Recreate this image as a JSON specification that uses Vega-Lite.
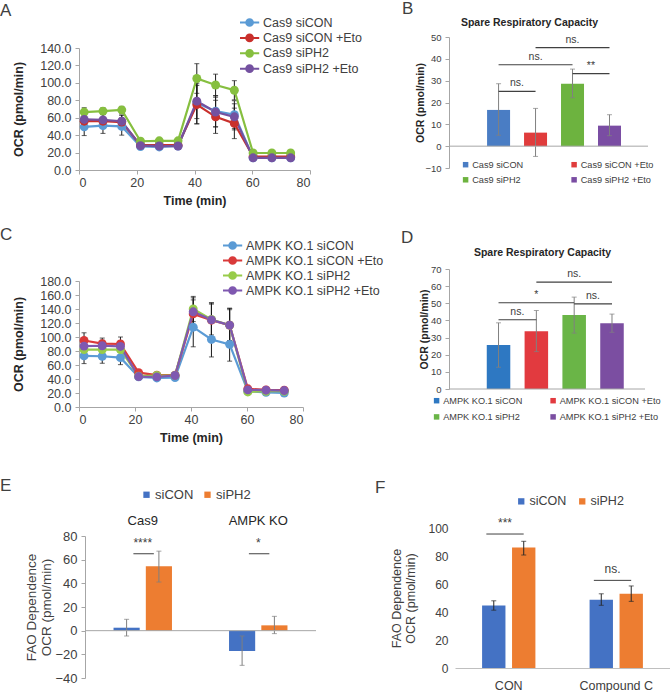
{
"$schema": "https://vega.github.io/schema/vega-lite/v6.json",
"padding": 0,
"autosize": {"type": "pad"},
"config": {
  "view": {"stroke": null},
  "font": "Liberation Sans",
  "axis": {"grid": false, "labelOverlap": false, "labelFont": "Liberation Sans", "titleFont": "Liberation Sans", "domainColor": "#a6a6a6", "tickColor": "#a6a6a6", "labelColor": "#404040", "titleColor": "#262626"},
  "legend": {"labelFont": "Liberation Sans", "labelColor": "#404040"},
  "title": {"font": "Liberation Sans", "fontWeight": "normal", "color": "#404040", "anchor": "start", "frame": "group", "fontSize": 17, "offset": 0}
},
"datasets": {
  "lineA": [
    {"g":"Cas9 siCON","t":1.8,"y":49.5,"lo":39.5,"hi":59.5},{"g":"Cas9 siCON","t":8.3,"y":51,"lo":42,"hi":60},{"g":"Cas9 siCON","t":14.8,"y":50,"lo":40,"hi":60},{"g":"Cas9 siCON","t":21.3,"y":27,"lo":25,"hi":29},{"g":"Cas9 siCON","t":27.8,"y":26.5,"lo":24.5,"hi":28.5},{"g":"Cas9 siCON","t":34.3,"y":27.5,"lo":25.5,"hi":29.5},{"g":"Cas9 siCON","t":40.8,"y":77,"lo":53,"hi":101},{"g":"Cas9 siCON","t":47.3,"y":67.5,"lo":49.5,"hi":85.5},{"g":"Cas9 siCON","t":53.8,"y":63.5,"lo":47.5,"hi":79.5},{"g":"Cas9 siCON","t":60.3,"y":14,"lo":12.5,"hi":15.5},{"g":"Cas9 siCON","t":66.8,"y":14,"lo":12.5,"hi":15.5},{"g":"Cas9 siCON","t":73.3,"y":14,"lo":12.5,"hi":15.5},
    {"g":"Cas9 siCON +Eto","t":1.8,"y":56,"lo":48,"hi":64},{"g":"Cas9 siCON +Eto","t":8.3,"y":56,"lo":48,"hi":64},{"g":"Cas9 siCON +Eto","t":14.8,"y":55,"lo":47,"hi":63},{"g":"Cas9 siCON +Eto","t":21.3,"y":28.5,"lo":26.5,"hi":30.5},{"g":"Cas9 siCON +Eto","t":27.8,"y":28.5,"lo":26.5,"hi":30.5},{"g":"Cas9 siCON +Eto","t":34.3,"y":28.5,"lo":26.5,"hi":30.5},{"g":"Cas9 siCON +Eto","t":40.8,"y":75,"lo":53,"hi":97},{"g":"Cas9 siCON +Eto","t":47.3,"y":61,"lo":42,"hi":80},{"g":"Cas9 siCON +Eto","t":53.8,"y":53.5,"lo":36,"hi":71},{"g":"Cas9 siCON +Eto","t":60.3,"y":15.5,"lo":14,"hi":17},{"g":"Cas9 siCON +Eto","t":66.8,"y":15.5,"lo":14,"hi":17},{"g":"Cas9 siCON +Eto","t":73.3,"y":15.5,"lo":14,"hi":17},
    {"g":"Cas9 siPH2","t":1.8,"y":66.5,"lo":61.5,"hi":71.5},{"g":"Cas9 siPH2","t":8.3,"y":67.5,"lo":63.5,"hi":71.5},{"g":"Cas9 siPH2","t":14.8,"y":69,"lo":65,"hi":73},{"g":"Cas9 siPH2","t":21.3,"y":33,"lo":31,"hi":35},{"g":"Cas9 siPH2","t":27.8,"y":33.5,"lo":31.5,"hi":35.5},{"g":"Cas9 siPH2","t":34.3,"y":33.5,"lo":31.5,"hi":35.5},{"g":"Cas9 siPH2","t":40.8,"y":105,"lo":88,"hi":122},{"g":"Cas9 siPH2","t":47.3,"y":97.5,"lo":85,"hi":110},{"g":"Cas9 siPH2","t":53.8,"y":91.5,"lo":80.5,"hi":102.5},{"g":"Cas9 siPH2","t":60.3,"y":19.5,"lo":18,"hi":21},{"g":"Cas9 siPH2","t":66.8,"y":19.5,"lo":18,"hi":21},{"g":"Cas9 siPH2","t":73.3,"y":19.5,"lo":18,"hi":21},
    {"g":"Cas9 siPH2 +Eto","t":1.8,"y":58,"lo":51,"hi":65},{"g":"Cas9 siPH2 +Eto","t":8.3,"y":57.5,"lo":50.5,"hi":64.5},{"g":"Cas9 siPH2 +Eto","t":14.8,"y":56,"lo":49,"hi":63},{"g":"Cas9 siPH2 +Eto","t":21.3,"y":28,"lo":26,"hi":30},{"g":"Cas9 siPH2 +Eto","t":27.8,"y":27.5,"lo":25.5,"hi":29.5},{"g":"Cas9 siPH2 +Eto","t":34.3,"y":27.5,"lo":25.5,"hi":29.5},{"g":"Cas9 siPH2 +Eto","t":40.8,"y":79,"lo":59,"hi":99},{"g":"Cas9 siPH2 +Eto","t":47.3,"y":66.5,"lo":49.5,"hi":83.5},{"g":"Cas9 siPH2 +Eto","t":53.8,"y":61,"lo":46,"hi":76},{"g":"Cas9 siPH2 +Eto","t":60.3,"y":14,"lo":12.5,"hi":15.5},{"g":"Cas9 siPH2 +Eto","t":66.8,"y":14,"lo":12.5,"hi":15.5},{"g":"Cas9 siPH2 +Eto","t":73.3,"y":14,"lo":12.5,"hi":15.5}
  ],
  "lineC": [
    {"g":"AMPK KO.1 siCON","t":1.8,"y":73,"lo":62,"hi":84},{"g":"AMPK KO.1 siCON","t":8.3,"y":72.5,"lo":62.5,"hi":82.5},{"g":"AMPK KO.1 siCON","t":14.8,"y":70.5,"lo":60.5,"hi":80.5},{"g":"AMPK KO.1 siCON","t":21.3,"y":43,"lo":40,"hi":46},{"g":"AMPK KO.1 siCON","t":27.8,"y":41.5,"lo":38.5,"hi":44.5},{"g":"AMPK KO.1 siCON","t":34.3,"y":42,"lo":39,"hi":45},{"g":"AMPK KO.1 siCON","t":40.8,"y":114,"lo":86,"hi":142},{"g":"AMPK KO.1 siCON","t":47.3,"y":96.5,"lo":71.5,"hi":121.5},{"g":"AMPK KO.1 siCON","t":53.8,"y":89.5,"lo":65.5,"hi":113.5},{"g":"AMPK KO.1 siCON","t":60.3,"y":22.5,"lo":20.5,"hi":24.5},{"g":"AMPK KO.1 siCON","t":66.8,"y":21,"lo":19,"hi":23},{"g":"AMPK KO.1 siCON","t":73.3,"y":20,"lo":18,"hi":22},
    {"g":"AMPK KO.1 siCON +Eto","t":1.8,"y":95,"lo":84,"hi":106},{"g":"AMPK KO.1 siCON +Eto","t":8.3,"y":90.5,"lo":82.5,"hi":98.5},{"g":"AMPK KO.1 siCON +Eto","t":14.8,"y":90,"lo":80,"hi":100},{"g":"AMPK KO.1 siCON +Eto","t":21.3,"y":49,"lo":46,"hi":52},{"g":"AMPK KO.1 siCON +Eto","t":27.8,"y":45.5,"lo":42.5,"hi":48.5},{"g":"AMPK KO.1 siCON +Eto","t":34.3,"y":45.5,"lo":42.5,"hi":48.5},{"g":"AMPK KO.1 siCON +Eto","t":40.8,"y":133,"lo":113,"hi":153},{"g":"AMPK KO.1 siCON +Eto","t":47.3,"y":124,"lo":99,"hi":149},{"g":"AMPK KO.1 siCON +Eto","t":53.8,"y":117,"lo":93,"hi":141},{"g":"AMPK KO.1 siCON +Eto","t":60.3,"y":26,"lo":24,"hi":28},{"g":"AMPK KO.1 siCON +Eto","t":66.8,"y":24.5,"lo":22.5,"hi":26.5},{"g":"AMPK KO.1 siCON +Eto","t":73.3,"y":24,"lo":22,"hi":26},
    {"g":"AMPK KO.1 siPH2","t":1.8,"y":82,"lo":74,"hi":90},{"g":"AMPK KO.1 siPH2","t":8.3,"y":82,"lo":74,"hi":90},{"g":"AMPK KO.1 siPH2","t":14.8,"y":82,"lo":74,"hi":90},{"g":"AMPK KO.1 siPH2","t":21.3,"y":44,"lo":41,"hi":47},{"g":"AMPK KO.1 siPH2","t":27.8,"y":45,"lo":42,"hi":48},{"g":"AMPK KO.1 siPH2","t":34.3,"y":45,"lo":42,"hi":48},{"g":"AMPK KO.1 siPH2","t":40.8,"y":140,"lo":122,"hi":158},{"g":"AMPK KO.1 siPH2","t":47.3,"y":125,"lo":103,"hi":147},{"g":"AMPK KO.1 siPH2","t":53.8,"y":117,"lo":95,"hi":139},{"g":"AMPK KO.1 siPH2","t":60.3,"y":21.5,"lo":19.5,"hi":23.5},{"g":"AMPK KO.1 siPH2","t":66.8,"y":22.5,"lo":20.5,"hi":24.5},{"g":"AMPK KO.1 siPH2","t":73.3,"y":22.5,"lo":20.5,"hi":24.5},
    {"g":"AMPK KO.1 siPH2 +Eto","t":1.8,"y":87,"lo":79,"hi":95},{"g":"AMPK KO.1 siPH2 +Eto","t":8.3,"y":87.5,"lo":79.5,"hi":95.5},{"g":"AMPK KO.1 siPH2 +Eto","t":14.8,"y":86.5,"lo":78.5,"hi":94.5},{"g":"AMPK KO.1 siPH2 +Eto","t":21.3,"y":43.5,"lo":40.5,"hi":46.5},{"g":"AMPK KO.1 siPH2 +Eto","t":27.8,"y":43,"lo":40,"hi":46},{"g":"AMPK KO.1 siPH2 +Eto","t":34.3,"y":45,"lo":42,"hi":48},{"g":"AMPK KO.1 siPH2 +Eto","t":40.8,"y":136,"lo":116,"hi":156},{"g":"AMPK KO.1 siPH2 +Eto","t":47.3,"y":124.5,"lo":100.5,"hi":148.5},{"g":"AMPK KO.1 siPH2 +Eto","t":53.8,"y":117,"lo":93,"hi":141},{"g":"AMPK KO.1 siPH2 +Eto","t":60.3,"y":24.5,"lo":22.5,"hi":26.5},{"g":"AMPK KO.1 siPH2 +Eto","t":66.8,"y":24,"lo":22,"hi":26},{"g":"AMPK KO.1 siPH2 +Eto","t":73.3,"y":23.5,"lo":21.5,"hi":25.5}
  ],
  "barB": [
    {"g":"Cas9 siCON","v":16.6,"lo":5,"hi":28.6},
    {"g":"Cas9 siCON +Eto","v":6.2,"lo":-4.7,"hi":17.3},
    {"g":"Cas9 siPH2","v":28.6,"lo":22.2,"hi":35.3},
    {"g":"Cas9 siPH2 +Eto","v":9.4,"lo":4.8,"hi":14.4}
  ],
  "sigB": [
    {"from":"Cas9 siCON","to":"Cas9 siCON +Eto","mid":"Cas9 siCON","kind":"adj","y":25.1,"label":"ns."},
    {"from":"Cas9 siCON","to":"Cas9 siPH2","mid":"Cas9 siCON +Eto","kind":"span","y":37.3,"label":"ns."},
    {"from":"Cas9 siCON +Eto","to":"Cas9 siPH2 +Eto","mid":"Cas9 siPH2","kind":"span","y":45.1,"label":"ns."},
    {"from":"Cas9 siPH2","to":"Cas9 siPH2 +Eto","mid":"Cas9 siPH2","kind":"adj","y":33.2,"label":"**"}
  ],
  "barD": [
    {"g":"AMPK KO.1 siCON","v":25.7,"lo":12.7,"hi":38.6},
    {"g":"AMPK KO.1 siCON +Eto","v":33.7,"lo":21.8,"hi":45.8},
    {"g":"AMPK KO.1 siPH2","v":43.2,"lo":32.6,"hi":53.6},
    {"g":"AMPK KO.1 siPH2 +Eto","v":38.4,"lo":33.1,"hi":43.7}
  ],
  "sigD": [
    {"from":"AMPK KO.1 siCON","to":"AMPK KO.1 siCON +Eto","mid":"AMPK KO.1 siCON","kind":"adj","y":40.4,"label":"ns."},
    {"from":"AMPK KO.1 siCON","to":"AMPK KO.1 siPH2","mid":"AMPK KO.1 siCON +Eto","kind":"span","y":50.3,"label":"*"},
    {"from":"AMPK KO.1 siCON +Eto","to":"AMPK KO.1 siPH2 +Eto","mid":"AMPK KO.1 siPH2","kind":"span","y":62.4,"label":"ns."},
    {"from":"AMPK KO.1 siPH2","to":"AMPK KO.1 siPH2 +Eto","mid":"AMPK KO.1 siPH2","kind":"adj","y":49.7,"label":"ns."}
  ],
  "barE": [
    {"cell":"Cas9","si":"siCON","v":2.5,"lo":-4.5,"hi":9.6},
    {"cell":"Cas9","si":"siPH2","v":54.5,"lo":41.1,"hi":67.2},
    {"cell":"AMPK KO","si":"siCON","v":-17.2,"lo":-29.3,"hi":-4.5},
    {"cell":"AMPK KO","si":"siPH2","v":4.5,"lo":-2.5,"hi":12.1}
  ],
  "sigE": [
    {"cell":"Cas9","y":65,"label":"****"},
    {"cell":"AMPK KO","y":65,"label":"*"}
  ],
  "barF": [
    {"cond":"CON","si":"siCON","v":44.6,"lo":41.3,"hi":48},
    {"cond":"CON","si":"siPH2","v":86,"lo":80.7,"hi":90.5},
    {"cond":"Compound C","si":"siCON","v":48.8,"lo":44.8,"hi":53},
    {"cond":"Compound C","si":"siPH2","v":53.1,"lo":47.6,"hi":58.6}
  ],
  "sigF": [
    {"cond":"CON","y":95.7,"label":"***"},
    {"cond":"Compound C","y":62.6,"label":"ns."}
  ]
},
"bounds": "flush",
"spacing": 370,
"resolve": {"scale": {"color": "independent", "xOffset": "independent"}, "legend": {"color": "independent"}},
"hconcat": [
  {
    "bounds": "flush",
    "spacing": 0,
    "resolve": {"scale": {"color": "independent", "xOffset": "independent"}, "legend": {"color": "independent"}},
    "vconcat": [
      {"width": 1, "height": 11, "data": {"values": []}, "mark": "point"},
      {
        "bounds": "flush",
        "spacing": 111,
        "resolve": {"scale": {"color": "independent", "xOffset": "independent"}, "legend": {"color": "independent"}},
        "vconcat": [
          {
            "width": 231, "height": 122,
            "title": {"text": "A", "dx": -79, "dy": 8},
            "data": {"name": "lineA"},
            "layer": [
              {"mark": {"type": "errorbar", "ticks": {"size": 5, "color": "#1a1a1a"}, "rule": {"color": "#1a1a1a"}},
               "encoding": {
                 "x": {"field": "t", "type": "quantitative", "title": "Time (min)", "scale": {"domain": [0, 80], "nice": false}, "axis": {"values": [0,20,40,60,80], "tickCount": 30, "titleFontSize": 12.5, "titleFontWeight": "bold", "labelFontSize": 12.5, "tickSize": 4, "labelPadding": 2, "titlePadding": 6}},
                 "y": {"field": "lo", "type": "quantitative", "title": "OCR (pmol/min)", "scale": {"domain": [0, 140], "nice": false}, "axis": {"values": [0,20,40,60,80,100,120,140], "tickCount": 30, "format": ".1f", "titleFontSize": 12.5, "titleFontWeight": "bold", "labelFontSize": 12.5, "tickSize": 4, "labelPadding": 4, "titlePadding": 14}},
                 "y2": {"field": "hi"}
               }},
              {"mark": {"type": "line", "strokeWidth": 2.2},
               "encoding": {
                 "x": {"field": "t", "type": "quantitative", "title": "Time (min)"},
                 "y": {"field": "y", "type": "quantitative", "title": "OCR (pmol/min)"},
                 "color": {"field": "g", "type": "nominal", "scale": {"domain": ["Cas9 siCON","Cas9 siCON +Eto","Cas9 siPH2","Cas9 siPH2 +Eto"], "range": ["#5B9BD5","#C9302C","#86BF3F","#7451A0"]},
                   "legend": {"orient": "none", "legendX": 163.6, "legendY": -32.5, "title": null, "symbolType": "M-1.6,0L1.6,0M0.56,0A0.56,0.56,0,1,1,-0.56,0A0.56,0.56,0,1,1,0.56,0Z", "symbolSize": 144, "symbolStrokeWidth": 2, "labelFontSize": 12.5, "labelOffset": 6.4, "rowPadding": -0.6,
                     "encode": {"symbols": {"update": {"fill": {"scale": "color", "field": "value"}, "stroke": {"scale": "color", "field": "value"}}}}}}
               }},
              {"mark": {"type": "point", "filled": true, "size": 80, "opacity": 1},
               "encoding": {
                 "x": {"field": "t", "type": "quantitative", "title": "Time (min)"},
                 "y": {"field": "y", "type": "quantitative", "title": "OCR (pmol/min)"},
                 "color": {"field": "g", "type": "nominal", "scale": {"domain": ["Cas9 siCON","Cas9 siCON +Eto","Cas9 siPH2","Cas9 siPH2 +Eto"], "range": ["#5B9BD5","#C9302C","#86BF3F","#7451A0"]}}
               }}
            ]
          },
          {
            "bounds": "flush",
            "spacing": 129,
            "resolve": {"scale": {"color": "independent", "xOffset": "independent"}, "legend": {"color": "independent"}},
            "vconcat": [
              {
                "width": 224, "height": 126,
                "title": {"text": "C", "dx": -79, "dy": 9},
                "data": {"name": "lineC"},
                "layer": [
                  {"mark": {"type": "errorbar", "ticks": {"size": 5, "color": "#1a1a1a"}, "rule": {"color": "#1a1a1a"}},
                   "encoding": {
                     "x": {"field": "t", "type": "quantitative", "title": "Time (min)", "scale": {"domain": [0, 80], "nice": false}, "axis": {"values": [0,20,40,60,80], "tickCount": 30, "titleFontSize": 12.5, "titleFontWeight": "bold", "labelFontSize": 12.5, "tickSize": 4, "labelPadding": 2, "titlePadding": 6}},
                     "y": {"field": "lo", "type": "quantitative", "title": "OCR (pmol/min)", "scale": {"domain": [0, 180], "nice": false}, "axis": {"values": [0,20,40,60,80,100,120,140,160,180], "tickCount": 30, "format": ".1f", "titleFontSize": 12.5, "titleFontWeight": "bold", "labelFontSize": 12.5, "tickSize": 4, "labelPadding": 4, "titlePadding": 14}},
                     "y2": {"field": "hi"}
                   }},
                  {"mark": {"type": "line", "strokeWidth": 2.2},
                   "encoding": {
                     "x": {"field": "t", "type": "quantitative", "title": "Time (min)"},
                     "y": {"field": "y", "type": "quantitative", "title": "OCR (pmol/min)"},
                     "color": {"field": "g", "type": "nominal", "scale": {"domain": ["AMPK KO.1 siCON","AMPK KO.1 siCON +Eto","AMPK KO.1 siPH2","AMPK KO.1 siPH2 +Eto"], "range": ["#5B9BD5","#D93A3A","#98CC4A","#7F58B0"]},
                       "legend": {"orient": "none", "legendX": 146.6, "legendY": -42.5, "title": null, "symbolType": "M-1.6,0L1.6,0M0.56,0A0.56,0.56,0,1,1,-0.56,0A0.56,0.56,0,1,1,0.56,0Z", "symbolSize": 144, "symbolStrokeWidth": 2, "labelFontSize": 12.5, "labelOffset": 6.4, "rowPadding": -1.2,
                         "encode": {"symbols": {"update": {"fill": {"scale": "color", "field": "value"}, "stroke": {"scale": "color", "field": "value"}}}}}}
                   }},
                  {"mark": {"type": "point", "filled": true, "size": 80, "opacity": 1},
                   "encoding": {
                     "x": {"field": "t", "type": "quantitative", "title": "Time (min)"},
                     "y": {"field": "y", "type": "quantitative", "title": "OCR (pmol/min)"},
                     "color": {"field": "g", "type": "nominal", "scale": {"domain": ["AMPK KO.1 siCON","AMPK KO.1 siCON +Eto","AMPK KO.1 siPH2","AMPK KO.1 siPH2 +Eto"], "range": ["#5B9BD5","#D93A3A","#98CC4A","#7F58B0"]}}
                   }}
                ]
              },
              {
                "bounds": "flush",
                "spacing": 5,
                "resolve": {"scale": {"color": "independent", "xOffset": "independent"}, "legend": {"color": "independent"}},
                "hconcat": [
                  {"width": 1, "height": 1, "data": {"values": []}, "mark": "point"},
                  {
                    "width": 231, "height": 142,
                    "title": {"text": "E", "dx": -85, "dy": 11},
                    "data": {"name": "barE"},
                    "layer": [
                      {"mark": {"type": "bar"},
                       "encoding": {
                         "x": {"field": "cell", "type": "nominal", "title": null, "sort": null, "scale": {"domain": ["Cas9","AMPK KO"], "paddingInner": 0.494, "paddingOuter": 0.247}, "axis": {"orient": "top", "domain": false, "ticks": false, "labelAngle": 0, "labelFontSize": 13, "labelPadding": 9, "labelColor": "#262626"}},
                         "xOffset": {"field": "si", "type": "nominal", "scale": {"domain": ["siCON","siPH2"], "paddingInner": 0.19}},
                         "y": {"field": "v", "type": "quantitative", "title": ["FAO Dependence", "OCR (pmol/min)"], "scale": {"domain": [-40, 80], "nice": false}, "axis": {"values": [-40,-20,0,20,40,60,80], "tickCount": 30, "labelFontSize": 13, "titleFontSize": 13.5, "titleFontWeight": "normal", "titleColor": "#404040", "tickSize": 4, "labelPadding": 4, "titlePadding": 1}},
                         "color": {"field": "si", "type": "nominal", "scale": {"domain": ["siCON","siPH2"], "range": ["#4472C4","#ED7D31"]},
                           "legend": {"orient": "none", "direction": "horizontal", "legendX": 55, "legendY": -48, "title": null, "symbolType": "square", "symbolSize": 40, "labelFontSize": 13, "labelOffset": 2, "columnPadding": 7}}
                       }},
                      {"mark": {"type": "errorbar", "ticks": {"size": 5}, "color": "#7f7f7f"},
                       "encoding": {
                         "x": {"field": "cell", "type": "nominal", "title": null},
                         "xOffset": {"field": "si", "type": "nominal"},
                         "y": {"field": "lo", "type": "quantitative", "title": ["FAO Dependence", "OCR (pmol/min)"]},
                         "y2": {"field": "hi"}
                       }},
                      {"data": {"values": [{}]}, "mark": {"type": "rule", "color": "#a6a6a6"},
                       "encoding": {"y": {"datum": 0, "type": "quantitative", "title": ["FAO Dependence", "OCR (pmol/min)"]}}},
                      {"data": {"name": "sigE"}, "mark": {"type": "rule", "color": "#404040", "strokeWidth": 1},
                       "encoding": {
                         "x": {"field": "cell", "type": "nominal", "title": null, "bandPosition": 0.34},
                         "x2": {"field": "cell", "bandPosition": 0.69},
                         "y": {"field": "y", "type": "quantitative", "title": ["FAO Dependence", "OCR (pmol/min)"]}
                       }},
                      {"data": {"name": "sigE"}, "mark": {"type": "text", "baseline": "bottom", "dy": -4, "fontSize": 12, "color": "#404040"},
                       "encoding": {
                         "x": {"field": "cell", "type": "nominal", "title": null, "bandPosition": 0.5},
                         "y": {"field": "y", "type": "quantitative", "title": ["FAO Dependence", "OCR (pmol/min)"]},
                         "text": {"field": "label"}
                       }}
                    ]
                  }
                ]
              }
            ]
          }
        ]
      }
    ]
  },
  {
    "bounds": "flush",
    "spacing": 101,
    "resolve": {"scale": {"color": "independent", "xOffset": "independent"}, "legend": {"color": "independent"}},
    "vconcat": [
      {
        "width": 199, "height": 131,
        "title": {"text": "B", "dx": -47, "dy": 5},
        "data": {"name": "barB"},
        "layer": [
          {"mark": {"type": "bar"},
           "encoding": {
             "x": {"field": "g", "type": "nominal", "title": "Spare Respiratory Capacity", "scale": {"domain": ["Cas9 siCON","Cas9 siCON +Eto","Cas9 siPH2","Cas9 siPH2 +Eto"], "paddingInner": 0.378, "paddingOuter": 0.88, "align": 0.585}, "axis": {"orient": "top", "labels": false, "ticks": false, "domain": false, "titleFontSize": 10.5, "titleFontWeight": "bold", "titlePadding": 10, "titleX": 80}},
             "y": {"field": "v", "type": "quantitative", "title": "OCR (pmol/min)", "scale": {"domain": [-10, 50], "nice": false}, "axis": {"values": [-10,0,10,20,30,40,50], "tickCount": 30, "labelFontSize": 9.5, "titleFontSize": 10.5, "titleFontWeight": "bold", "tickSize": 4, "labelPadding": 4, "titlePadding": -1}},
             "color": {"field": "g", "type": "nominal", "scale": {"domain": ["Cas9 siCON","Cas9 siCON +Eto","Cas9 siPH2","Cas9 siPH2 +Eto"], "range": ["#4A7DC4","#E03C3C","#6DB33F","#7A4DA3"]},
               "legend": {"orient": "none", "direction": "horizontal", "legendX": 12, "legendY": 123, "title": null, "columns": 2, "columnPadding": 45.5, "rowPadding": 5.2, "symbolType": "square", "symbolSize": 30, "labelFontSize": 9.2, "labelOffset": 2}}
           }},
          {"mark": {"type": "errorbar", "ticks": {"size": 5}, "color": "#808080"},
           "encoding": {
             "x": {"field": "g", "type": "nominal", "title": "Spare Respiratory Capacity"},
             "y": {"field": "lo", "type": "quantitative", "title": "OCR (pmol/min)"},
             "y2": {"field": "hi"}
           }},
          {"data": {"values": [{}]}, "mark": {"type": "rule", "color": "#a6a6a6"},
           "encoding": {"y": {"datum": 0, "type": "quantitative", "title": "OCR (pmol/min)"}}},
          {"data": {"name": "sigB"}, "mark": {"type": "rule", "color": "#404040", "strokeWidth": 1.2},
           "encoding": {
             "x": {"field": "from", "type": "nominal", "title": "Spare Respiratory Capacity", "bandPosition": 0.5},
             "x2": {"field": "to", "bandPosition": 0.5},
             "y": {"field": "y", "type": "quantitative", "title": "OCR (pmol/min)"}
           }},
          {"data": {"name": "sigB"}, "transform": [{"filter": "datum.kind == 'span'"}], "mark": {"type": "text", "baseline": "bottom", "dy": -3, "fontSize": 10.5, "color": "#404040"},
           "encoding": {
             "x": {"field": "mid", "type": "nominal", "title": "Spare Respiratory Capacity", "bandPosition": 0.5},
             "y": {"field": "y", "type": "quantitative", "title": "OCR (pmol/min)"},
             "text": {"field": "label"}
           }},
          {"data": {"name": "sigB"}, "transform": [{"filter": "datum.kind == 'adj'"}], "mark": {"type": "text", "baseline": "bottom", "dy": -3, "fontSize": 10.5, "color": "#404040"},
           "encoding": {
             "x": {"field": "mid", "type": "nominal", "title": "Spare Respiratory Capacity", "bandPosition": 1.3},
             "y": {"field": "y", "type": "quantitative", "title": "OCR (pmol/min)"},
             "text": {"field": "label"}
           }}
        ]
      },
      {
        "bounds": "flush",
        "spacing": 139,
        "resolve": {"scale": {"color": "independent", "xOffset": "independent"}, "legend": {"color": "independent"}},
        "vconcat": [
          {
            "width": 196, "height": 120,
            "title": {"text": "D", "dx": -48, "dy": 4},
            "data": {"name": "barD"},
            "layer": [
              {"mark": {"type": "bar"},
               "encoding": {
                 "x": {"field": "g", "type": "nominal", "title": "Spare Respiratory Capacity", "scale": {"domain": ["AMPK KO.1 siCON","AMPK KO.1 siCON +Eto","AMPK KO.1 siPH2","AMPK KO.1 siPH2 +Eto"], "paddingInner": 0.378, "paddingOuter": 0.78, "align": 0.64}, "axis": {"orient": "top", "labels": false, "ticks": false, "domain": false, "titleFontSize": 10.5, "titleFontWeight": "bold", "titlePadding": 12, "titleX": 93}},
                 "y": {"field": "v", "type": "quantitative", "title": "OCR (pmol/min)", "scale": {"domain": [0, 70], "nice": false}, "axis": {"values": [0,10,20,30,40,50,60,70], "tickCount": 30, "labelFontSize": 9.5, "titleFontSize": 10.5, "titleFontWeight": "bold", "tickSize": 4, "labelPadding": 4, "titlePadding": 1}},
                 "color": {"field": "g", "type": "nominal", "scale": {"domain": ["AMPK KO.1 siCON","AMPK KO.1 siCON +Eto","AMPK KO.1 siPH2","AMPK KO.1 siPH2 +Eto"], "range": ["#2E78C2","#E23A3F","#6AB547","#7B4EA1"]},
                   "legend": {"orient": "none", "direction": "horizontal", "legendX": -17, "legendY": 127, "title": null, "columns": 2, "columnPadding": 25.5, "rowPadding": 6.3, "symbolType": "square", "symbolSize": 30, "labelFontSize": 9.2, "labelOffset": 2}}
               }},
              {"mark": {"type": "errorbar", "ticks": {"size": 5}, "color": "#808080"},
               "encoding": {
                 "x": {"field": "g", "type": "nominal", "title": "Spare Respiratory Capacity"},
                 "y": {"field": "lo", "type": "quantitative", "title": "OCR (pmol/min)"},
                 "y2": {"field": "hi"}
               }},
              {"data": {"values": [{}]}, "mark": {"type": "rule", "color": "#a6a6a6"},
               "encoding": {"y": {"datum": 0, "type": "quantitative", "title": "OCR (pmol/min)"}}},
              {"data": {"name": "sigD"}, "mark": {"type": "rule", "color": "#404040", "strokeWidth": 1.2},
               "encoding": {
                 "x": {"field": "from", "type": "nominal", "title": "Spare Respiratory Capacity", "bandPosition": 0.5},
                 "x2": {"field": "to", "bandPosition": 0.5},
                 "y": {"field": "y", "type": "quantitative", "title": "OCR (pmol/min)"}
               }},
              {"data": {"name": "sigD"}, "transform": [{"filter": "datum.kind == 'span'"}], "mark": {"type": "text", "baseline": "bottom", "dy": -3, "fontSize": 10.5, "color": "#404040"},
               "encoding": {
                 "x": {"field": "mid", "type": "nominal", "title": "Spare Respiratory Capacity", "bandPosition": 0.5},
                 "y": {"field": "y", "type": "quantitative", "title": "OCR (pmol/min)"},
                 "text": {"field": "label"}
               }},
              {"data": {"name": "sigD"}, "transform": [{"filter": "datum.kind == 'adj'"}], "mark": {"type": "text", "baseline": "bottom", "dy": -3, "fontSize": 10.5, "color": "#404040"},
               "encoding": {
                 "x": {"field": "mid", "type": "nominal", "title": "Spare Respiratory Capacity", "bandPosition": 1.3},
                 "y": {"field": "y", "type": "quantitative", "title": "OCR (pmol/min)"},
                 "text": {"field": "label"}
               }}
            ]
          },
          {
            "bounds": "flush",
            "spacing": 5,
            "resolve": {"scale": {"color": "independent", "xOffset": "independent"}, "legend": {"color": "independent"}},
            "hconcat": [
              {"width": 1, "height": 1, "data": {"values": []}, "mark": "point"},
              {
                "width": 215, "height": 140,
                "title": {"text": "F", "dx": -80, "dy": 6},
                "data": {"name": "barF"},
                "layer": [
                  {"mark": {"type": "bar"},
                   "encoding": {
                     "x": {"field": "cond", "type": "nominal", "title": null, "scale": {"domain": ["CON","Compound C"], "paddingInner": 0.504, "paddingOuter": 0.252}, "axis": {"orient": "bottom", "domain": true, "domainColor": "#bfbfbf", "ticks": false, "labelAngle": 0, "labelFontSize": 12.5, "labelPadding": 11}},
                     "xOffset": {"field": "si", "type": "nominal", "scale": {"domain": ["siCON","siPH2"], "paddingInner": 0.22}},
                     "y": {"field": "v", "type": "quantitative", "title": ["FAO Dependence", "OCR (pmol/min)"], "scale": {"domain": [0, 100], "nice": false}, "axis": {"values": [0,20,40,60,80,100], "tickCount": 30, "domain": false, "ticks": false, "labelFontSize": 12, "labelPadding": 7, "titleFontSize": 12.5, "titleFontWeight": "normal", "titleColor": "#404040", "titlePadding": 10}},
                     "color": {"field": "si", "type": "nominal", "scale": {"domain": ["siCON","siPH2"], "range": ["#4472C4","#ED7D31"]},
                       "legend": {"orient": "none", "direction": "horizontal", "legendX": 60, "legendY": -33, "title": null, "symbolType": "square", "symbolSize": 40, "labelFontSize": 12.5, "labelOffset": 2, "columnPadding": 9}}
                   }},
                  {"mark": {"type": "errorbar", "ticks": {"size": 5}, "color": "#262626"},
                   "encoding": {
                     "x": {"field": "cond", "type": "nominal", "title": null},
                     "xOffset": {"field": "si", "type": "nominal"},
                     "y": {"field": "lo", "type": "quantitative", "title": ["FAO Dependence", "OCR (pmol/min)"]},
                     "y2": {"field": "hi"}
                   }},
                  {"data": {"name": "sigF"}, "mark": {"type": "rule", "color": "#404040", "strokeWidth": 1},
                   "encoding": {
                     "x": {"field": "cond", "type": "nominal", "title": null, "bandPosition": 0.08},
                     "x2": {"field": "cond", "bandPosition": 0.78},
                     "y": {"field": "y", "type": "quantitative", "title": ["FAO Dependence", "OCR (pmol/min)"]}
                   }},
                  {"data": {"name": "sigF"}, "mark": {"type": "text", "baseline": "bottom", "dy": -4, "fontSize": 12, "color": "#404040"},
                   "encoding": {
                     "x": {"field": "cond", "type": "nominal", "title": null, "bandPosition": 0.43},
                     "y": {"field": "y", "type": "quantitative", "title": ["FAO Dependence", "OCR (pmol/min)"]},
                     "text": {"field": "label"}
                   }}
                ]
              }
            ]
          }
        ]
      }
    ]
  }
]
}
